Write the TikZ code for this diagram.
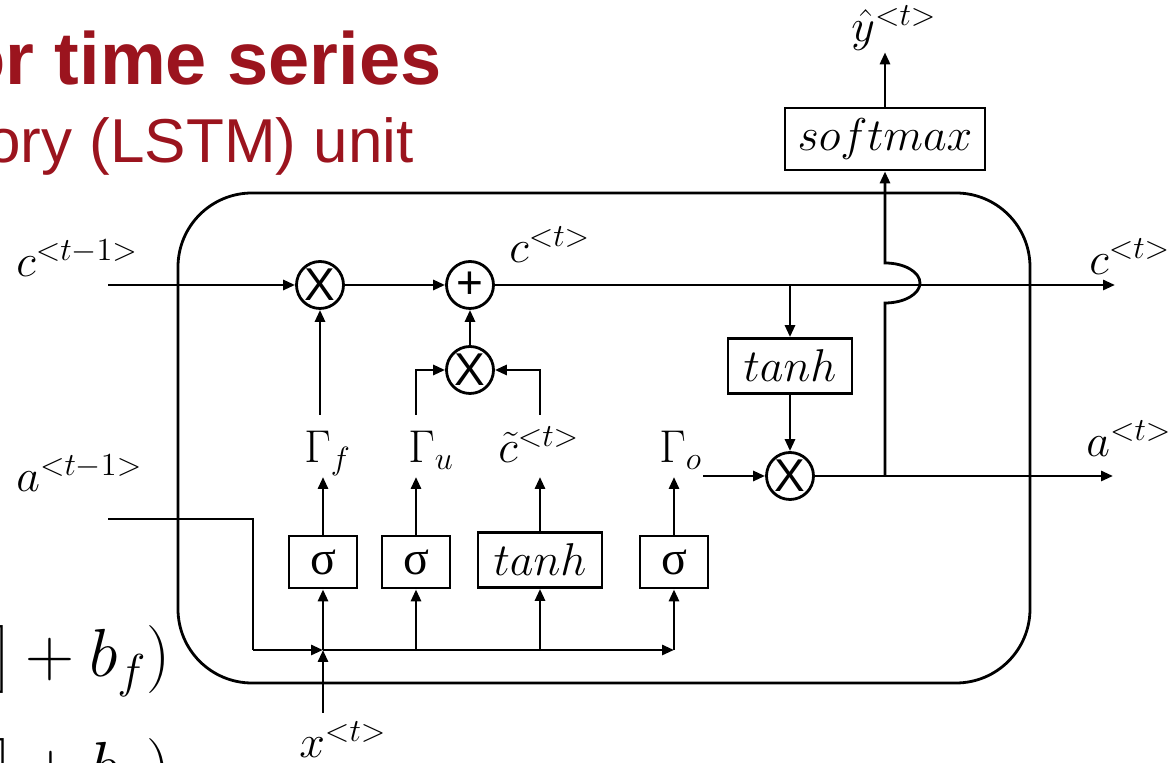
\RequirePackage{fix-cm}
\documentclass[tikz,border=0pt]{standalone}
\usepackage{fontspec}
\newfontfamily\arialfont{Liberation Sans}
\newfontfamily\timesfont{Liberation Serif}
\usepackage{tikz}
\usetikzlibrary{arrows.meta, positioning, calc}
\definecolor{titlered}{RGB}{155,20,30}

\begin{document}
\begin{tikzpicture}[
    x=0.5pt, y=-0.5pt,
    line width=1.4pt,
    flow/.style={-{Triangle[length=6pt, width=5pt]}},
    opnode/.style={circle, draw, minimum size=23.5pt, inner sep=0pt, font=\arialfont\fontsize{23}{26}\selectfont},
    gatebox/.style={rectangle, draw, minimum width=34pt, minimum height=26pt, inner sep=0pt, font=\timesfont\fontsize{24}{28}\selectfont},
    funcbox/.style={gatebox, minimum width=62pt, minimum height=27.5pt, font=\fontsize{23}{28}\selectfont},
    lbl/.style={inner sep=0pt, font=\fontsize{23}{28}\selectfont}
  ]
  \useasboundingbox (0,0) rectangle (1174,763);

  % slide text behind the cell
  \node[anchor=base east, inner sep=0pt, text=titlered, font=\arialfont\bfseries\fontsize{37}{44}\selectfont] (title) at (443,85) {or time series};
  \node[anchor=base east, inner sep=0pt, text=titlered, font=\arialfont\fontsize{31}{37}\selectfont] (subtitle) at (415,163) {ory (LSTM) unit};
  \node[anchor=base east, inner sep=0pt, font=\fontsize{34}{40}\selectfont] (eqf) at (172,677) {$] + b_f)$};
  \node[anchor=base east, inner sep=0pt, font=\fontsize{34}{40}\selectfont] (equ) at (172,790) {$] + b_u)$};

  % cell outline
  \draw[rounded corners=37pt] (178,193) rectangle (1030,683);

  \node[opnode] (mulf) at (320,285) {X};
  \node[opnode] (addc) at (470,285) {+};
  \node[opnode] (mulu) at (470,370) {X};
  \node[opnode] (mulo) at (790,476) {X};

  \node[gatebox] (sigf) at (323,562) {σ};
  \node[gatebox] (sigu) at (416,562) {σ};
  \node[funcbox] (tanhc) at (540,560) {$tanh$};
  \node[gatebox] (sigo) at (674,562) {σ};
  \node[funcbox] (tanho) at (790,366) {$tanh$};
  \node[funcbox, minimum width=100pt, minimum height=31pt] (smax) at (885,139) {$softmax$};

  \node[lbl, anchor=base west] (cprev) at (15,277) {$c^{<t-1>}$};
  \node[lbl, anchor=base west] (aprev) at (15,492) {$a^{<t-1>}$};
  \node[lbl, anchor=base west] (cmid) at (508,263) {$c^{<t>}$};
  \node[lbl, anchor=base west] (cnext) at (1088,275) {$c^{<t>}$};
  \node[lbl, anchor=base west] (anext) at (1085,457) {$a^{<t>}$};
  \node[lbl, anchor=base west] (yhat) at (850,42) {$\hat{y}^{<t>}$};
  \node[lbl, anchor=base west] (xcur) at (298,758) {$x^{<t>}$};
  \node[lbl, anchor=base west] (gf) at (303,463) {$\Gamma_f$};
  \node[lbl, anchor=base west] (gu) at (407,463) {$\Gamma_u$};
  \node[lbl, anchor=base west] (ct) at (497,463) {$\tilde{c}^{<t>}$};
  \node[lbl, anchor=base west] (go) at (658,463) {$\Gamma_o$};

  \coordinate (cin) at (108,285);
  \coordinate (cout) at (1115,285);
  \coordinate (ain) at (108,519);
  \coordinate (aout) at (1113,476);
  \coordinate (xin) at (323,713);
  \coordinate (bend) at (253,650);
  \coordinate (hop) at (885,303);
  \coordinate (gtop) at (0,415);
  \coordinate (gbot) at (0,477);

  % cell state
  \draw[flow] (cin) -- (mulf);
  \draw[flow] (mulf) -- (addc);
  \draw[flow] (addc) -- (cout);
  \draw[flow] (mulf |- gtop) -- (mulf);
  \draw[flow] (mulu) -- (addc);
  \draw[flow] (sigu |- gtop) |- (mulu);
  \draw[flow] (tanhc |- gtop) |- (mulu);

  % inputs
  \draw (ain) -| (bend);
  \draw[flow] (bend) -- (sigf |- bend);
  \draw[flow] (sigf |- bend) -- (sigo |- bend);
  \draw[flow] (xin) -- (sigf |- bend);
  \draw[flow] (sigf |- bend) -- (sigf);
  \draw[flow] (sigu |- bend) -- (sigu);
  \draw[flow] (tanhc |- bend) -- (tanhc);
  \draw[flow] (sigo |- bend) -- (sigo);

  \draw[flow] (sigf) -- (sigf |- gbot);
  \draw[flow] (sigu) -- (sigu |- gbot);
  \draw[flow] (tanhc) -- (tanhc |- gbot);
  \draw[flow] (sigo) -- (sigo |- gbot);

  % output
  \draw[flow] (go.east |- mulo) -- (mulo);
  \draw[flow] (tanho |- addc) -- (tanho);
  \draw[flow] (tanho) -- (mulo);
  \draw[flow] (mulo) -- (aout);
  \draw[flow] (smax |- mulo) -- (hop) arc[start angle=-90, end angle=90, x radius=17.5pt, y radius=10pt] -- (smax);
  \draw[flow] (smax) -- (smax |- yhat.south);
\end{tikzpicture}
\end{document}
